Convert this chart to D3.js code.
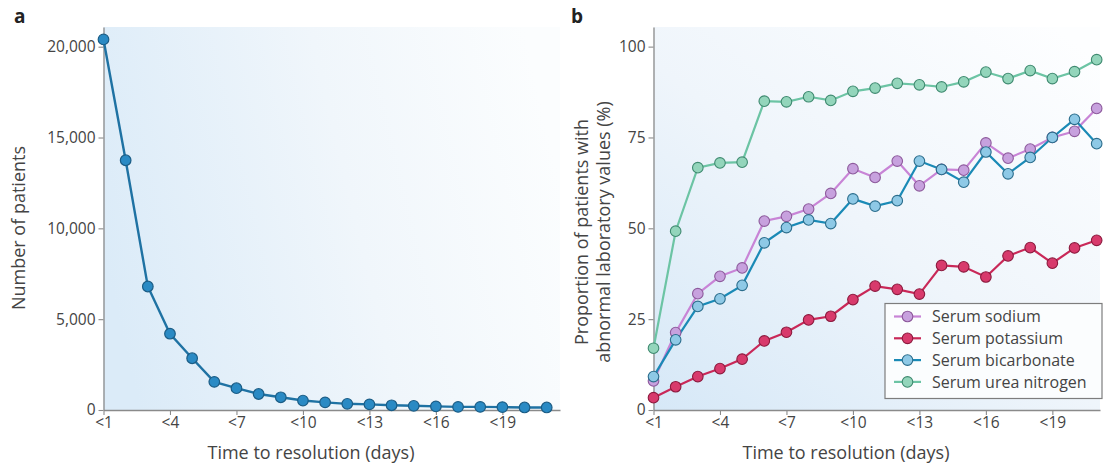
<!DOCTYPE html>
<html>
<head>
<meta charset="utf-8">
<script src="https://cdn.jsdelivr.net/npm/d3@7"></script>
<style>
  html, body { margin: 0; padding: 0; background: #ffffff; }
  svg { display: block; font-family: "Open Sans", "Noto Sans", sans-serif; }
</style>
</head>
<body>
<svg id="chart" width="1107" height="468"></svg>
<script>
// ---------- data ----------
const categories = ["<1","<2","<3","<4","<5","<6","<7","<8","<9","<10","<11",
                    "<12","<13","<14","<15","<16","<17","<18","<19","<20","<21"];
const tickIndex = [0, 3, 6, 9, 12, 15, 18];

const patients = [20400, 13750, 6800, 4200, 2850, 1550, 1200, 880, 700, 520, 420,
                  340, 310, 260, 230, 200, 170, 170, 160, 140, 140];
const patientTicks = [0, 5000, 10000, 15000, 20000];

const sodium      = [8, 21.3, 32, 36.8, 39.1, 52, 53.3, 55.3, 59.6, 66.4, 64,
                     68.5, 61.7, 66.2, 66, 73.5, 69.3, 71.8, 75, 76.7, 83];
const potassium   = [3.4, 6.4, 9.2, 11.4, 14, 19, 21.4, 24.8, 25.8, 30.4, 34.1,
                     33.2, 31.9, 39.8, 39.4, 36.6, 42.4, 44.7, 40.4, 44.6, 46.7];
const bicarbonate = [9.2, 19.3, 28.5, 30.6, 34.3, 46, 50.2, 52.3, 51.3, 58.1, 56.1,
                     57.6, 68.5, 66.2, 62.7, 71, 65, 69.5, 75, 80, 73.3];
const urea        = [17, 49.2, 66.7, 68, 68.2, 85, 84.8, 86.2, 85.2, 87.7, 88.6,
                     89.9, 89.5, 88.9, 90.3, 93, 91.2, 93.4, 91.2, 93.1, 96.4];
const percentTicks = [0, 25, 50, 75, 100];

const seriesNames = ["Serum sodium", "Serum potassium", "Serum bicarbonate", "Serum urea nitrogen"];

// ---------- styles ----------
const seriesStyle = [
  { line: "#c884d6", fill: "#c7a1de", stroke: "#8d5a9c" },
  { line: "#c92858", fill: "#d83a6c", stroke: "#8c1a3e" },
  { line: "#1a8ab6", fill: "#8ec9e6", stroke: "#2b6d8c" },
  { line: "#6cc4a4", fill: "#93d5bb", stroke: "#3f8a70" }
];
const seriesData = [sodium, potassium, bicarbonate, urea];

const svg = d3.select("#chart");
const defs = svg.append("defs");

const gA = defs.append("linearGradient").attr("id", "bgA")
  .attr("x1", 0).attr("y1", 0.6).attr("x2", 1).attr("y2", 0.4);
gA.append("stop").attr("offset", "0%").attr("stop-color", "#dbebf8");
gA.append("stop").attr("offset", "55%").attr("stop-color", "#f0f6fb");
gA.append("stop").attr("offset", "100%").attr("stop-color", "#fbfdfe");

const gB = defs.append("linearGradient").attr("id", "bgB")
  .attr("x1", 0).attr("y1", 1).attr("x2", 0.9).attr("y2", 0);
gB.append("stop").attr("offset", "0%").attr("stop-color", "#d6e8f7");
gB.append("stop").attr("offset", "50%").attr("stop-color", "#eff5fb");
gB.append("stop").attr("offset", "100%").attr("stop-color", "#fdfeff");

const axisColor = "#8a8a8a";
const textColor = "#444444";

function styleAxis(g) {
  g.selectAll(".domain").attr("stroke", axisColor).attr("stroke-width", 1.3);
  g.selectAll(".tick line").attr("stroke", axisColor).attr("stroke-width", 1.1);
  g.selectAll(".tick text").attr("fill", textColor).style("font-size", "15.5px")
    .style("font-family", "'Open Sans', sans-serif");
}

function panel(opts) {
  const { left, right, top, bottom, yMax, yTicks, yFormat, bg, xMax } = opts;
  const x = d3.scaleLinear().domain([0, xMax]).range([left, right]);
  const y = d3.scaleLinear().domain([0, yMax]).range([bottom, top]);

  svg.append("rect").attr("x", left).attr("y", top)
    .attr("width", right - left).attr("height", bottom - top)
    .attr("fill", `url(#${bg})`);

  const xa = svg.append("g").attr("transform", `translate(0,${bottom})`)
    .call(d3.axisBottom(x).tickValues(tickIndex).tickFormat(i => categories[i])
      .tickSizeInner(5).tickSizeOuter(0).tickPadding(2));
  styleAxis(xa);

  const ya = svg.append("g").attr("transform", `translate(${left},0)`)
    .call(d3.axisLeft(y).tickValues(yTicks).tickFormat(yFormat)
      .tickSizeInner(5).tickSizeOuter(0).tickPadding(3));
  styleAxis(ya);
  return { x, y };
}

// ---------- panel a ----------
const A = panel({ left: 103.5, right: 560, top: 27, bottom: 410,
  yMax: 21084, yTicks: patientTicks, yFormat: d3.format(","), bg: "bgA", xMax: 20.6 });

const lineA = d3.line().x((d, i) => A.x(i)).y(d => A.y(d));
svg.append("path").datum(patients).attr("d", lineA)
  .attr("fill", "none").attr("stroke", "#1f72a3").attr("stroke-width", 2.4);
svg.append("g").selectAll("circle").data(patients).join("circle")
  .attr("cx", (d, i) => A.x(i)).attr("cy", d => A.y(d)).attr("r", 5.3)
  .attr("fill", "#2a8ac4").attr("stroke", "#1b5d86").attr("stroke-width", 1.2);

// ---------- panel b ----------
const B = panel({ left: 653.5, right: 1100, top: 27, bottom: 410,
  yMax: 105.4, yTicks: percentTicks, yFormat: d3.format("d"), bg: "bgB", xMax: 20.15 });

const lineB = d3.line().x((d, i) => B.x(i)).y(d => B.y(d));
seriesData.forEach((s, k) => {
  const st = seriesStyle[k];
  svg.append("path").datum(s).attr("d", lineB)
    .attr("fill", "none").attr("stroke", st.line).attr("stroke-width", 2.2);
});
seriesData.forEach((s, k) => {
  const st = seriesStyle[k];
  svg.append("g").selectAll("circle").data(s).join("circle")
    .attr("cx", (d, i) => B.x(i)).attr("cy", d => B.y(d)).attr("r", 5.3)
    .attr("fill", st.fill).attr("stroke", st.stroke).attr("stroke-width", 1.1);
});

// ---------- legend ----------
const lg = svg.append("g");
lg.append("rect").attr("x", 885).attr("y", 303.5).attr("width", 217).attr("height", 95)
  .attr("fill", "#fbfdfe").attr("stroke", "#7d7d7d").attr("stroke-width", 1.2);
seriesNames.forEach((name, k) => {
  const yy = 316.5 + k * 21.8;
  const st = seriesStyle[k];
  lg.append("line").attr("x1", 894).attr("x2", 921).attr("y1", yy).attr("y2", yy)
    .attr("stroke", st.line).attr("stroke-width", 2.2);
  lg.append("circle").attr("cx", 907.5).attr("cy", yy).attr("r", 5.3)
    .attr("fill", st.fill).attr("stroke", st.stroke).attr("stroke-width", 1.1);
  lg.append("text").attr("x", 932).attr("y", yy).attr("dy", "0.35em")
    .attr("fill", textColor).style("font-size", "16px").text(name);
});

// ---------- titles ----------
svg.append("text").attr("x", 14).attr("y", 23).attr("font-weight", "bold")
  .style("font-size", "19px").attr("fill", "#222").text("a");
svg.append("text").attr("x", 571).attr("y", 23).attr("font-weight", "bold")
  .style("font-size", "19px").attr("fill", "#222").text("b");

svg.append("text").attr("x", 311).attr("y", 459).attr("text-anchor", "middle")
  .attr("fill", textColor).style("font-size", "18px").text("Time to resolution (days)");
svg.append("text").attr("x", 846).attr("y", 459).attr("text-anchor", "middle")
  .attr("fill", textColor).style("font-size", "18px").text("Time to resolution (days)");

svg.append("text").attr("transform", "translate(25,228) rotate(-90)").attr("text-anchor", "middle")
  .attr("fill", textColor).style("font-size", "18px").text("Number of patients");
svg.append("text").attr("transform", "translate(588,232) rotate(-90)").attr("text-anchor", "middle")
  .attr("fill", textColor).style("font-size", "18px").text("Proportion of patients with");
svg.append("text").attr("transform", "translate(610,232) rotate(-90)").attr("text-anchor", "middle")
  .attr("fill", textColor).style("font-size", "18px").text("abnormal laboratory values (%)");
</script>
</body>
</html>
